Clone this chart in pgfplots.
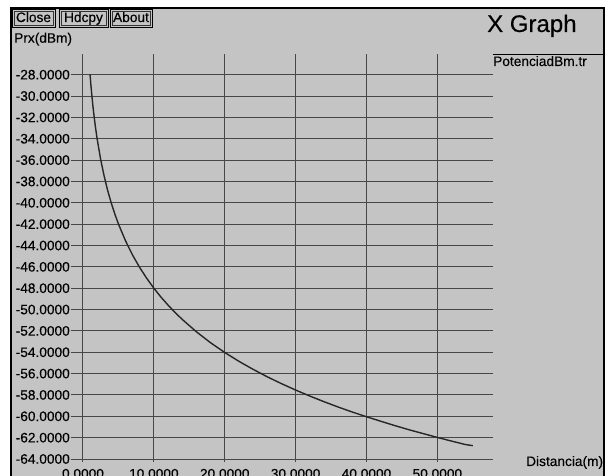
\documentclass[border=0pt]{standalone}
\usepackage{pgfplots}
\pgfplotsset{compat=1.18}
\usepackage{fontspec}
\setmainfont{Liberation Sans}[FakeBold=0.3]
\definecolor{panel}{RGB}{196,196,196}
\newcommand\lbl{\fontsize{13.7}{16}\selectfont}
\begin{document}
\begin{tikzpicture}[x=1pt,y=1pt]
\useasboundingbox (0,0) rectangle (606,476);
\fill[white] (0,0) rectangle (606,476);
\fill[panel] (11,0) rectangle (604,468);
\draw[black, line width=1.3pt] (11,0) -- (11,468) -- (604,468) -- (604,0);
% buttons
\foreach \a/\b/\t in {12/55/Close,59/108/Hdcpy,110/152/About}{
  \draw[black, line width=0.9pt] (\a,449) rectangle (\b,467);
  \draw[black!80, line width=0.6pt] (\a+2,451) rectangle (\b-2,465);
  \node[anchor=base, inner sep=0pt, font=\lbl] at ({(\a+\b)/2},454) {\t};
}
\node[anchor=base west, inner sep=0pt, font=\lbl] at (14,433.3) {Prx(dBm)};
\node[anchor=base west, inner sep=0pt, font=\fontsize{24}{28}\selectfont] at (487,444) {X Graph};
\draw[black, line width=1pt] (493,421.3) -- (604,421.3);
\node[anchor=base west, inner sep=0pt, font=\lbl] at (493,410) {PotenciadBm.tr};
\node[anchor=base west, inner sep=0pt, font=\lbl] at (526,10) {Distancia(m)};
\begin{axis}[
  at={(71.5pt,14pt)}, anchor=south west,
  scale only axis, width=421pt, height=408pt,
  xmin=-1.62, xmax=57.78, ymin=-64.28, ymax=-26.06,
  axis line style={draw=none},
  xtick={10,20,30,40,50},
  xticklabels={10.0000,20.0000,30.0000,40.0000,50.0000},
  extra x ticks={0}, extra x tick labels={0.0000},
  extra x tick style={grid style={white, line width=1.3pt}},
  ytick={-64,-62,-60,-58,-56,-54,-52,-50,-48,-46,-44,-42,-40,-38,-36,-34,-32,-30,-28},
  yticklabels={-64.0000,-62.0000,-60.0000,-58.0000,-56.0000,-54.0000,-52.0000,-50.0000,-48.0000,-46.0000,-44.0000,-42.0000,-40.0000,-38.0000,-36.0000,-34.0000,-32.0000,-30.0000,-28.0000},
  grid=major, major grid style={black!72, line width=1pt},
  major tick length=0pt,
  tick label style={font=\lbl},
  xticklabel style={anchor=base, inner sep=0pt, yshift=-16.5pt},
  yticklabel style={anchor=east, inner sep=0pt, xshift=-1.5pt},
  clip=false,
]
\addplot[black!85, line width=1.4pt, no marks] coordinates {
(1,-28.00) (1.1,-28.83) (1.25,-29.94) (1.4,-30.92) (1.5,-31.52) (1.75,-32.86)
(2,-34.02) (2.5,-35.96) (3,-37.54) (3.5,-38.88) (4,-40.04) (4.5,-41.06)
(5,-41.98) (6,-43.56) (7,-44.90) (8,-46.06) (9,-47.08) (10,-48.00)
(11,-48.83) (12,-49.58) (13,-50.28) (14,-50.92) (16,-52.08) (18,-53.11)
(20,-54.02) (22,-54.85) (24,-55.60) (26,-56.30) (28,-56.94) (30,-57.54)
(32,-58.10) (34,-58.63) (36,-59.13) (38,-59.60) (40,-60.04) (42,-60.46)
(44,-60.87) (46,-61.26) (48,-61.62) (50,-61.98) (52,-62.32) (54,-62.65) (55,-62.75)
};
\end{axis}
\end{tikzpicture}
\end{document}
